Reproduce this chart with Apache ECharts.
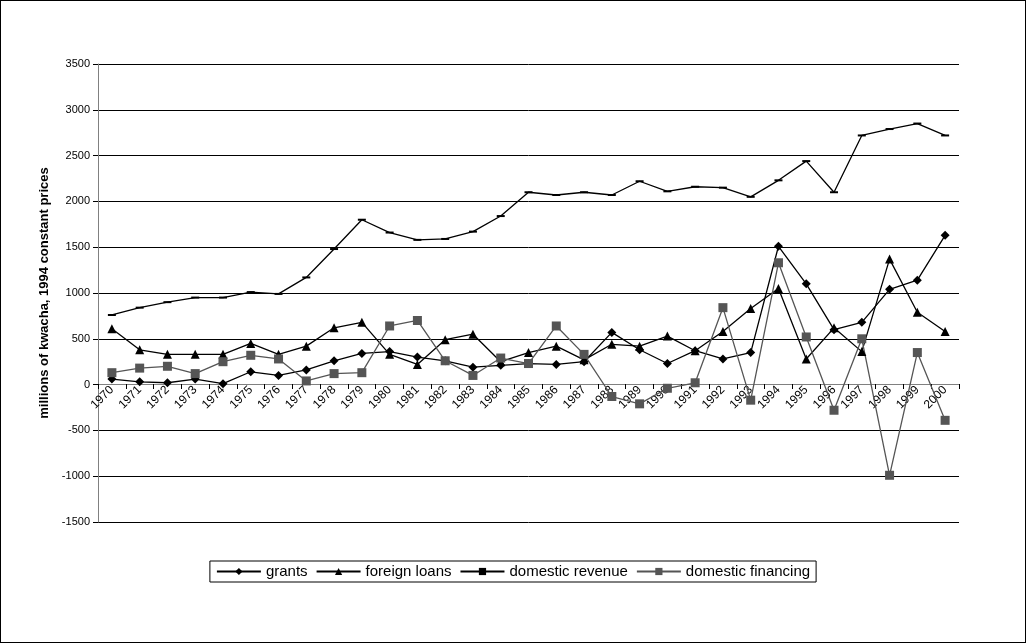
<!DOCTYPE html>
<html>
<head>
<meta charset="utf-8">
<script src="https://cdn.jsdelivr.net/npm/echarts@6/dist/echarts.min.js"></script>
<style>
html,body{margin:0;padding:0;background:#fff;}
#chart{width:1026px;height:643px;box-sizing:border-box;border:1px solid #000;}
</style>
</head>
<body>
<div id="chart"></div>
<script>
var years = [];
for (var y = 1970; y <= 2000; y++) years.push(String(y));

var grants = [60,30,20,60,10,140,100,160,260,340,360,300,260,190,210,230,220,250,570,380,230,370,280,350,1510,1100,600,680,1040,1140,1630];
var foreignLoans = [610,380,330,330,330,450,330,420,620,680,330,220,490,550,250,350,420,270,440,420,530,370,580,830,1050,280,620,360,1370,790,580];
var domesticRevenue = [760,840,900,950,950,1010,990,1170,1480,1800,1660,1580,1590,1670,1840,2100,2070,2100,2070,2220,2110,2160,2150,2050,2230,2440,2100,2720,2790,2850,2720];
var domesticFinancing = [130,180,200,120,250,320,280,40,120,130,640,700,260,100,290,230,640,330,-130,-210,-40,20,840,-170,1330,520,-280,500,-990,350,-390];

var myC = echarts.init(document.getElementById('chart'));

function line(name, data, symbol, color, size) {
    return {
        name: name,
        type: 'line',
        data: data,
        symbol: symbol,
        symbolSize: size,
        lineStyle: { color: color, width: 1.3 },
        itemStyle: { color: color },
        animation: false
    };
}

myC.setOption({
    backgroundColor: '#fff',
    textStyle: { fontFamily: 'Arial, Liberation Sans, sans-serif' },
    grid: { left: 97, right: 66, top: 63, bottom: 120 },
    legend: {
        bottom: 60,
        left: 'center',
        itemWidth: 44,
        itemHeight: 9,
        itemGap: 8,
        padding: [3, 6],
        borderColor: '#000',
        borderWidth: 1,
        textStyle: { fontSize: 15, color: '#000' },
        data: ['grants', 'foreign loans', 'domestic revenue', 'domestic financing']
    },
    xAxis: {
        type: 'category',
        data: years,
        boundaryGap: true,
        position: 'bottom',
        offset: -138,
        axisLine: { onZero: false, lineStyle: { color: '#808080' } },
        axisTick: { show: true, lineStyle: { color: '#000' }, length: 5 },
        axisLabel: { rotate: 45, color: '#000', fontSize: 12, interval: 0, align: 'right', margin: 4 }
    },
    yAxis: {
        type: 'value',
        min: -1500,
        max: 3500,
        interval: 500,
        name: 'millions of kwacha, 1994 constant prices',
        nameLocation: 'middle',
        nameGap: 46,
        nameTextStyle: { fontWeight: 'bold', fontSize: 13, color: '#000' },
        axisLine: { show: true, lineStyle: { color: '#808080' } },
        axisTick: { show: true, lineStyle: { color: '#000' } },
        axisLabel: { color: '#000', fontSize: 11, formatter: function (v) { return String(v); } },
        splitLine: { lineStyle: { color: '#000', width: 1 } }
    },
    series: [
        line('grants', grants, 'diamond', '#000', 9),
        line('foreign loans', foreignLoans, 'triangle', '#000', 9),
        line('domestic revenue', domesticRevenue, 'rect', '#000', [8, 2]),
        line('domestic financing', domesticFinancing, 'rect', '#555', 9)
    ]
});
</script>
</body>
</html>
